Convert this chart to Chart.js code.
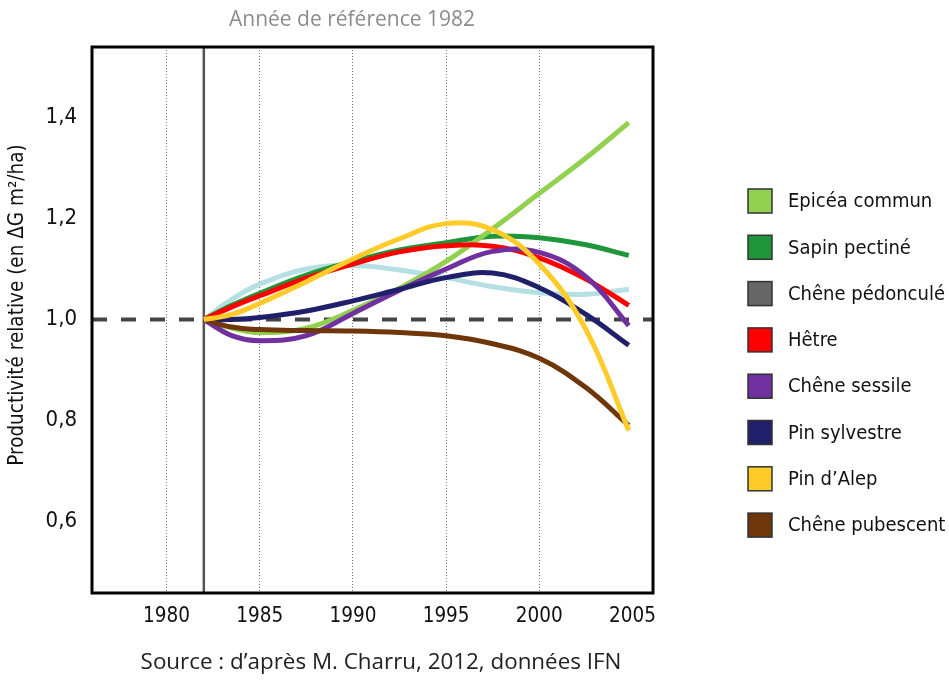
<!DOCTYPE html>
<html>
<head>
<meta charset="utf-8">
<script src="https://cdn.jsdelivr.net/npm/chart.js@4.4.1/dist/chart.umd.min.js"></script>
<style>
html, body { margin: 0; padding: 0; background: #fff; }
</style>
</head>
<body>
<canvas id="myChart" width="949" height="681"></canvas>
<script>
// Données (productivité relative, base 1982)
const annees = [1982, 1983.5, 1985, 1987.5, 1990, 1992.5, 1995, 1997.5, 2000, 2002.5, 2004.8];

const epicea      = [1.0, 0.983, 0.974, 0.983, 1.018, 1.062, 1.115, 1.18, 1.25, 1.32, 1.39];
const sapin       = [1.0, 1.028, 1.052, 1.088, 1.115, 1.138, 1.152, 1.165, 1.162, 1.148, 1.127];
const pedoncule   = [1.0, 1.04, 1.07, 1.10, 1.107, 1.098, 1.083, 1.065, 1.053, 1.05, 1.06];
const hetre       = [1.0, 1.025, 1.047, 1.082, 1.11, 1.134, 1.146, 1.145, 1.122, 1.08, 1.028];
const sessile     = [1.0, 0.968, 0.958, 0.968, 1.012, 1.058, 1.10, 1.135, 1.133, 1.085, 0.988];
const sylvestre   = [1.0, 1.0, 1.004, 1.017, 1.037, 1.06, 1.083, 1.092, 1.063, 1.01, 0.949];
const alep        = [1.0, 1.01, 1.032, 1.075, 1.12, 1.16, 1.19, 1.178, 1.11, 0.98, 0.78];
const pubescent   = [1.0, 0.985, 0.98, 0.978, 0.977, 0.974, 0.968, 0.952, 0.923, 0.865, 0.79];

const especes = ['Epicéa commun', 'Sapin pectiné', 'Chêne pédonculé', 'Hêtre',
                 'Chêne sessile', 'Pin sylvestre', 'Pin d\u2019Alep', 'Chêne pubescent'];
const series = [epicea, sapin, pedoncule, hetre, sessile, sylvestre, alep, pubescent];

const anneeReference = 1982;
const valeurReference = 1.0;
const xTicks = [1980, 1985, 1990, 1995, 2000, 2005];
const xGrille = [1980, 1985, 1990, 1995, 2000];
const yTicks = [0.6, 0.8, 1.0, 1.2, 1.4];

// couleurs
const couleursLegende = ['#92d050', '#1e9639', '#666666', '#ff0000', '#7030a0', '#20206a', '#ffcb29', '#6f3609'];
const couleursCourbes = ['#92d050', '#1e9639', '#b5e0e3', '#ff0000', '#7030a0', '#20206a', '#ffcb29', '#6f3609'];
const ordre = [5, 7, 8, 4, 3, 2, 0, 1]; // plus petit = dessus

const X_MIN = 1976, X_MAX = 2006.1;
const FONT_NARROW = '"Liberation Sans Narrow", "DejaVu Sans Condensed", sans-serif';
const FONT_TEXTE = '"Open Sans", sans-serif';

const datasets = series.map(function (valeurs, i) {
    return {
        label: especes[i],
        data: annees.map(function (a, j) { return { x: a, y: valeurs[j] }; }),
        borderColor: couleursCourbes[i],
        backgroundColor: couleursCourbes[i],
        borderWidth: 5,
        pointRadius: 0,
        tension: 0.4,
        fill: false,
        order: ordre[i]
    };
});

// ligne pointillée de référence 1,0
datasets.push({
    label: 'reference',
    data: [{ x: X_MIN, y: valeurReference }, { x: X_MAX, y: valeurReference }],
    borderColor: '#444444',
    borderWidth: 4,
    borderDash: [15, 14],
    pointRadius: 0,
    fill: false,
    order: 10
});

const decor = {
    id: 'decor',
    beforeDatasetsDraw: function (chart) {
        const ctx = chart.ctx, a = chart.chartArea;
        const x = chart.scales.x.getPixelForValue(anneeReference);
        ctx.save();
        ctx.strokeStyle = '#555555';
        ctx.lineWidth = 2.5;
        ctx.beginPath();
        ctx.moveTo(x, a.top);
        ctx.lineTo(x, a.bottom);
        ctx.stroke();
        ctx.restore();
    },
    afterDatasetsDraw: function (chart) {
        const ctx = chart.ctx, a = chart.chartArea;
        ctx.save();
        ctx.strokeStyle = '#000';
        ctx.lineWidth = 3;
        ctx.strokeRect(a.left, a.top, a.right - a.left, a.bottom - a.top);
        ctx.restore();
    },
    afterDraw: function (chart) {
        const ctx = chart.ctx;
        ctx.save();
        ctx.textBaseline = 'middle';
        ctx.textAlign = 'center';
        ctx.fillStyle = '#8c8c8c';
        ctx.font = '21px ' + FONT_TEXTE;
        ctx.fillText('Année de référence ' + anneeReference, 352, 20);
        ctx.fillStyle = '#222';
        ctx.font = '22.4px ' + FONT_TEXTE;
        ctx.fillText('Source : d\u2019après M. Charru, 2012, données IFN', 381, 663);

        // titre de l'axe vertical
        ctx.save();
        ctx.translate(18, 305);
        ctx.rotate(-Math.PI / 2);
        ctx.fillStyle = '#111';
        ctx.font = '20.5px ' + FONT_NARROW;
        ctx.fillText('Productivité relative (en \u0394G m\u00b2/ha)', 0, 0);
        ctx.restore();

        // légende
        ctx.textAlign = 'left';
        ctx.font = '20px ' + FONT_NARROW;
        for (let i = 0; i < especes.length; i++) {
            const cy = 201 + i * 46.3;
            ctx.fillStyle = couleursLegende[i];
            ctx.fillRect(748, cy - 12, 24, 24);
            ctx.strokeStyle = '#333';
            ctx.lineWidth = 1.5;
            ctx.strokeRect(748, cy - 12, 24, 24);
            ctx.fillStyle = '#111';
            ctx.fillText(especes[i], 788, cy + 1);
        }
        ctx.restore();
    }
};

new Chart(document.getElementById('myChart'), {
    type: 'line',
    data: { datasets: datasets },
    options: {
        responsive: false,
        animation: false,
        layout: { padding: { left: 0, top: 47, right: 296, bottom: 38 } },
        plugins: {
            legend: { display: false },
            tooltip: { enabled: false }
        },
        scales: {
            x: {
                type: 'linear',
                min: X_MIN,
                max: X_MAX,
                afterBuildTicks: function (scale) {
                    scale.ticks = xTicks.map(function (v) { return { value: v }; });
                },
                afterFit: function (scale) { scale.height = 50; },
                ticks: {
                    padding: 11,
                    color: '#111',
                    font: { family: FONT_NARROW, size: 20.5 },
                    callback: function (v) { return String(v); }
                },
                grid: {
                    drawTicks: false,
                    lineWidth: 1,
                    color: function (c) {
                        return (c.tick && xGrille.indexOf(c.tick.value) >= 0) ? '#777777' : 'rgba(0,0,0,0)';
                    }
                },
                border: { display: false, dash: [1, 2] }
            },
            y: {
                min: 0.458,
                max: 1.54,
                afterBuildTicks: function (scale) {
                    scale.ticks = yTicks.map(function (v) { return { value: v }; });
                },
                afterFit: function (scale) { scale.width = 92; },
                ticks: {
                    padding: 15,
                    color: '#111',
                    font: { family: FONT_NARROW, size: 22 },
                    callback: function (v) { return v.toFixed(1).replace('.', ','); }
                },
                grid: { display: false, drawTicks: false },
                border: { display: false }
            }
        }
    },
    plugins: [decor]
});
</script>
</body>
</html>
